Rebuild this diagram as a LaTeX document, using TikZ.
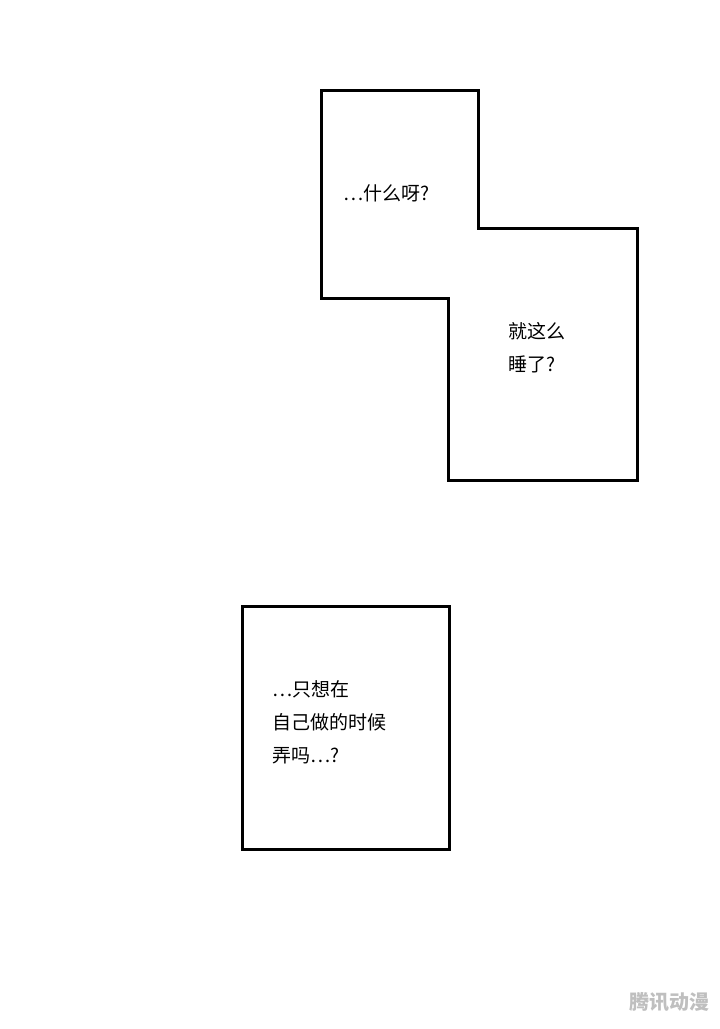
\documentclass[tikz,border=0pt]{standalone}
\usepackage{fontspec}
\setmainfont{Noto Sans CJK SC}
\begin{document}
\begin{tikzpicture}[x=1pt,y=-1pt,
  panel/.style={draw=black,line width=3pt,line join=miter,fill=white},
  txt/.style={font=\fontsize{19}{33}\selectfont,align=left,anchor=north west,inner sep=0pt}]
\useasboundingbox[fill=white] (0,0) rectangle (720,1029);
\draw[panel] (321,90) -- (478,90) -- (478,228) -- (637,228) -- (637,480) -- (448,480) -- (448,298) -- (321,298) -- cycle;
\node[txt] (t1) at (343,184) {…什么呀?};
\node[txt] (t2) at (508,322) {就这么\\睡了?};
\draw[panel] (242,606) rectangle (449,849);
\node[txt] (t3) at (272,680) {…只想在\\自己做的时候\\弄吗…?};
\node[font=\bfseries\fontsize{20}{20}\selectfont,text=black!25,anchor=east,inner sep=0pt] (wm) at (710,1002) {腾讯动漫};
\end{tikzpicture}
\end{document}
